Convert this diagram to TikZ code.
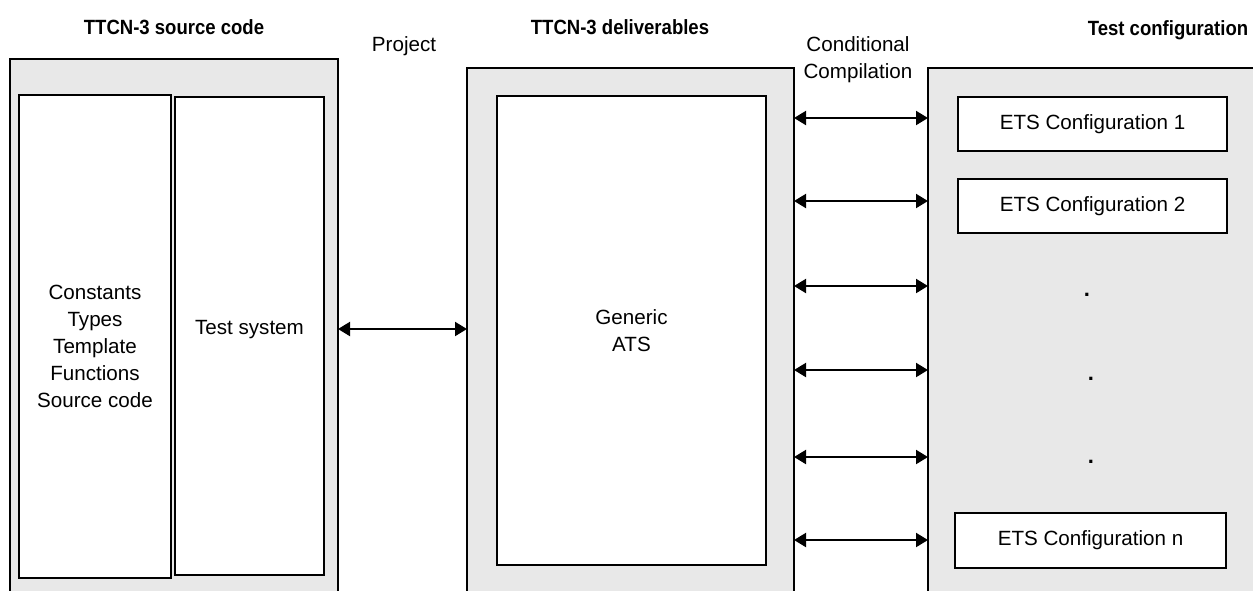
\documentclass[tikz,border=0pt]{standalone}
\usepackage{fontspec}
\setmainfont{Liberation Sans}
\newfontfamily\headfont{Liberation Sans}[FakeStretch=0.9]
\usetikzlibrary{arrows.meta}
\definecolor{panel}{HTML}{E8E8E8}
\tikzset{>={Triangle[length=6pt,width=7pt]}}

\begin{document}
\begin{tikzpicture}[x=0.5pt,y=-0.5pt,font=\fontsize{10.3}{13.5}\selectfont,
  outerbox/.style={draw,line width=1pt,fill=panel,inner sep=0pt,outer sep=0pt},
  innerbox/.style={draw,line width=0.75pt,fill=white,inner sep=0pt,outer sep=0pt,align=center},
  heading/.style={font=\headfont\fontsize{10.3}{13.5}\selectfont\bfseries},
  dotmark/.style={font=\fontsize{11}{13}\selectfont\bfseries,inner sep=0pt},
  link/.style={<->,line width=1pt}]
\useasboundingbox (0,0) rectangle (1253,590);
\clip (0,0) rectangle (1253,590);
% titles
\node[heading] (srctitle) at (174,27) {TTCN-3 source code};
\node[heading] (deltitle) at (620,27) {TTCN-3 deliverables};
\node[heading] (cfgtitle) at (1168,30) {Test configuration};
\node (project) at (404,46) {Project};
\node[align=center] (condcomp) at (858,60) {Conditional\\Compilation};
% outer panels, open at the bottom
\node[outerbox,minimum width=164pt,minimum height=280.5pt] (srcbox) at (174,339.5) {};
\node[outerbox,minimum width=163.5pt,minimum height=276pt] (delbox) at (630.5,344) {};
\node[outerbox,minimum width=173.5pt,minimum height=276pt] (cfgbox) at (1101.5,344) {};
% source code
\node[innerbox,minimum width=76pt,minimum height=241.5pt,
  label={[align=center,yshift=-5pt]center:Constants\\Types\\Template\\Functions\\Source code}] (defs) at (95,336.5) {};
\node[innerbox,minimum width=74.5pt,minimum height=239pt,
  label={[yshift=3pt]center:Test system}] (tsys) at (249.5,336) {};
% deliverables
\node[innerbox,minimum width=134.5pt,minimum height=234.5pt] (gats) at (631.5,330.5) {Generic\\ATS};
% configurations
\node[innerbox,minimum width=134.5pt,minimum height=27pt] (cfg1) at (1092.5,124) {ETS Configuration 1};
\node[innerbox,minimum width=134.5pt,minimum height=27pt] (cfg2) at (1092.5,206) {ETS Configuration 2};
\node[innerbox,minimum width=135.5pt,minimum height=27.5pt] (cfgn) at (1090.5,540.5) {ETS Configuration n};
\node[dotmark] (dot1) at (1087,295) {.};
\node[dotmark] (dot2) at (1091,379) {.};
\node[dotmark] (dot3) at (1091,462) {.};
% links
\draw[link] (srcbox.east |- 0,329) -- (delbox.west |- 0,329);
\foreach \y in {118,201,286,370,457,540}
  \draw[link] (delbox.east |- 0,\y) -- (cfgbox.west |- 0,\y);
\end{tikzpicture}
\end{document}
